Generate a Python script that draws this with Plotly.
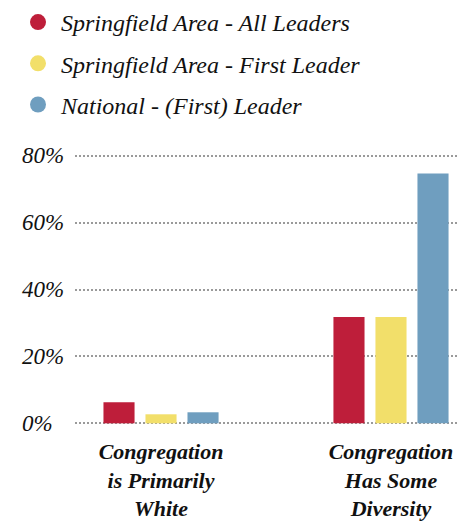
import plotly.graph_objects as go

categories = ["Congregation<br>is Primarily<br>White", "Congregation<br>Has Some<br>Diversity"]
series_names = ["Springfield Area - All Leaders", "Springfield Area - First Leader", "National - (First) Leader"]
all_leaders = [6.3, 31.8]
first_leader = [2.7, 31.8]
national = [3.3, 74.7]
colors = ["#BE1E3A", "#F2DF6A", "#6F9EBF"]
tick_vals = [0, 20, 40, 60, 80]
tick_text = ["0%", "20%", "40%", "60%", "80%"]

FONT = "Liberation Serif"
W, H = 468, 523
ml, mr, mt, mb = 75, 11, 154, 98

fig = go.Figure()
for name, vals, col in zip(series_names, [all_leaders, first_leader, national], colors):
    fig.add_trace(go.Bar(x=[0, 1], y=vals, name=name, marker=dict(color=col, line=dict(width=0)),
                         showlegend=False, hoverinfo="skip"))
for i, (name, col) in enumerate(zip(series_names, colors)):
    fig.add_trace(go.Scatter(x=[None], y=[None], mode="markers", name=name,
                             marker=dict(color=col, size=20, symbol="circle"),
                             legendgroup=f"g{i}", showlegend=True))

for v, t in zip(tick_vals, tick_text):
    fig.add_annotation(x=(20 - ml) / (W - ml - mr), xref="paper", xanchor="left",
                       y=v, yref="y", yanchor="middle", text=t, showarrow=False,
                       font=dict(family=FONT, size=23, color="#111", style="italic"))

fig.update_layout(
    width=W, height=H,
    margin=dict(l=ml, r=mr, t=mt, b=mb, autoexpand=False),
    paper_bgcolor="white", plot_bgcolor="white",
    barmode="group", bargap=0.452, bargroupgap=0.26,
    showlegend=True,
    legend=dict(xref="container", yref="container", x=15 / W, y=1.0,
                xanchor="left", yanchor="top", traceorder="grouped", tracegroupgap=7,
                itemsizing="trace", itemwidth=36,
                font=dict(family=FONT, size=24, color="#111", style="italic"),
                bgcolor="rgba(0,0,0,0)"),
    xaxis=dict(range=[-0.374, 1.287], tickvals=[0, 1], ticktext=categories,
               showgrid=False, zeroline=False, showline=False, ticks="", tickangle=0,
               ticklabelstandoff=11,
               tickfont=dict(family=FONT, size=22, color="#111", style="italic", weight="bold")),
    yaxis=dict(range=[-0.5, 80.5], tickvals=tick_vals, showticklabels=False,
               showgrid=True, gridcolor="#9a9a9a", gridwidth=2, griddash="2px,2px",
               zeroline=False, showline=False, ticks=""),
)

fig.write_html("out.html", config={"displayModeBar": False},
               post_script="document.body.style.margin='0';")
